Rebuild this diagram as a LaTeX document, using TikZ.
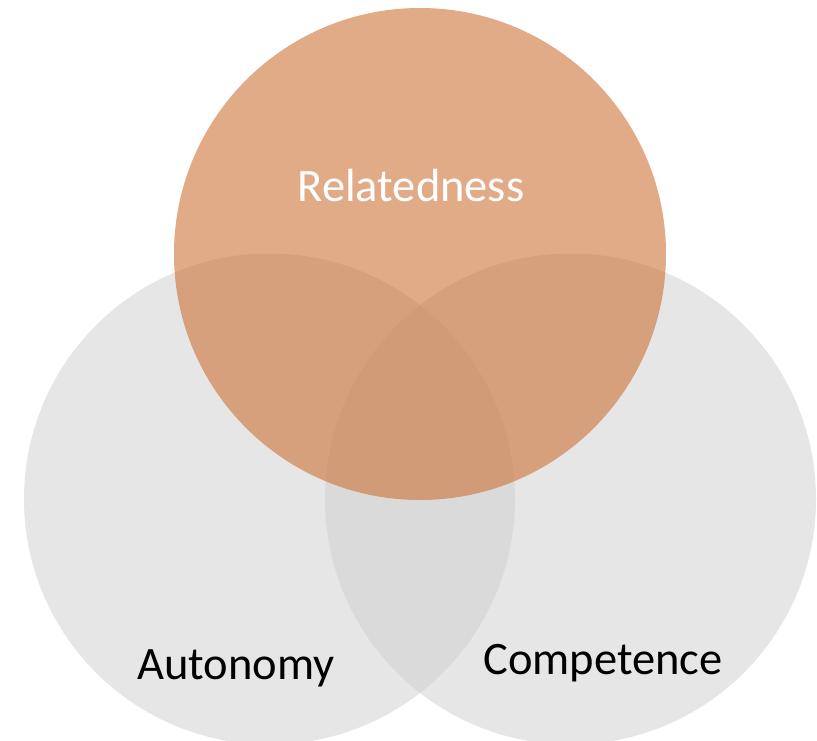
\documentclass[tikz,border=0pt]{standalone}
\usepackage{fontspec}
\setmainfont{Carlito}
\definecolor{grayfill}{RGB}{207,207,207}
\definecolor{orangefill}{RGB}{204,111,49}
\tikzset{
  graycirc/.style={fill=grayfill, fill opacity=0.5, draw=none},
  orangecirc/.style={fill=orangefill, fill opacity=0.58, draw=none},
  lbl/.style={anchor=base, inner sep=0pt, font=\fontsize{46.5}{55}\selectfont}
}
\begin{document}
\begin{tikzpicture}[x=1pt,y=-1pt]
  \useasboundingbox (0,0) rectangle (817,741);
  \fill[white] (0,0) rectangle (817,741);
  \path[graycirc] (269.5,499) circle[radius=245.5pt];
  \path[graycirc] (570.5,499) circle[radius=245.5pt];
  \path[orangecirc] (420,254) circle[radius=246pt];
  \node[lbl, text=white] (rel) at (411,201) {Relatedness};
  \node[lbl, text=black] (aut) at (236,679) {Autonomy};
  \node[lbl, text=black] (com) at (603,674) {Competence};
\end{tikzpicture}
\end{document}
